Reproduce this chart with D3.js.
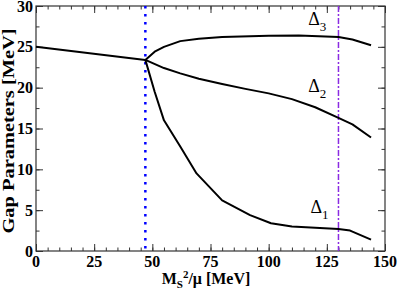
<!DOCTYPE html>
<html>
<head>
<meta charset="utf-8">
<script src="https://cdn.jsdelivr.net/npm/d3@7"></script>
<style>
  body { margin: 0; background: #fff; }
  text { font-family: "Liberation Serif", "DejaVu Serif", serif; }
</style>
</head>
<body>
<div id="chart"></div>
<script>
// common line below the splitting point
const xCommon = [0, 47];
const yCommon = [25.0, 23.4];

// Delta_3 branch
const xD3 = [47, 51, 55, 62, 70, 80, 100, 113, 130, 136, 144];
const yD3 = [23.4, 24.4, 25.0, 25.7, 26.0, 26.2, 26.35, 26.4, 26.2, 25.9, 25.2];

// Delta_2 branch
const xD2 = [47, 55, 62, 70, 80, 90, 100, 110, 120, 130, 136, 144];
const yD2 = [23.4, 22.4, 21.75, 21.1, 20.45, 19.85, 19.3, 18.6, 17.6, 16.3, 15.5, 13.9];

// Delta_1 branch
const xD1 = [47, 51, 55, 62, 69, 80, 92, 101, 110, 130, 135, 144];
const yD1 = [23.4, 19.5, 16.0, 12.8, 9.5, 6.2, 4.4, 3.4, 3.0, 2.7, 2.5, 1.4];

// vertical markers
const blueLineX = 47;
const purpleLineX = 130;

const xTicks = [0, 25, 50, 75, 100, 125, 150];
const yTicks = [0, 5, 10, 15, 20, 25, 30];

const width = 399, height = 292;
const margin = { top: 6, right: 14, bottom: 41, left: 36 };
const w = width - margin.left - margin.right;
const h = height - margin.top - margin.bottom;

const svg = d3.select('#chart').append('svg')
   .attr('width', width)
   .attr('height', height);

const chart = svg.append('g')
   .attr('transform', `translate(${margin.left},${margin.top})`);

const x = d3.scaleLinear().domain([0, 150]).range([0, w]);
const y = d3.scaleLinear().domain([0, 30]).range([h, 0]);

// ticks on all four sides, pointing inward
const xMinor = d3.range(0, 150.1, 5);
const yMinor = d3.range(0, 30.1, 2.5);

function tickAxis(axis, scale, vals, size) {
   return axis(scale).tickValues(vals).tickSize(size).tickFormat('');
}

chart.append('g').attr('transform', `translate(0,${h})`)
   .call(tickAxis(d3.axisTop, x, xMinor, 3.5));
chart.append('g').attr('transform', `translate(0,${h})`)
   .call(tickAxis(d3.axisTop, x, xTicks, 7));
chart.append('g').call(tickAxis(d3.axisBottom, x, xMinor, 3.5));
chart.append('g').call(tickAxis(d3.axisBottom, x, xTicks, 7));
chart.append('g').call(tickAxis(d3.axisRight, y, yMinor, 3.5));
chart.append('g').call(tickAxis(d3.axisRight, y, yTicks, 7));
chart.append('g').attr('transform', `translate(${w},0)`)
   .call(tickAxis(d3.axisLeft, y, yMinor, 3.5));
chart.append('g').attr('transform', `translate(${w},0)`)
   .call(tickAxis(d3.axisLeft, y, yTicks, 7));

chart.selectAll('.domain').remove();
chart.selectAll('.tick line').attr('stroke', '#333').attr('stroke-width', 1);

// tick labels
chart.selectAll('.xlab')
   .data(xTicks)
   .enter()
   .append('text')
   .attr('x', d => x(d))
   .attr('y', h + 16)
   .attr('text-anchor', 'middle')
   .style('font-size', '16px')
   .style('font-weight', 'bold')
   .text(d => d);

chart.selectAll('.ylab')
   .data(yTicks)
   .enter()
   .append('text')
   .attr('x', -3)
   .attr('y', d => y(d) + 5.5)
   .attr('text-anchor', 'end')
   .style('font-size', '16px')
   .style('font-weight', 'bold')
   .text(d => d);

// frame
chart.append('rect')
   .attr('width', w)
   .attr('height', h)
   .attr('fill', 'none')
   .attr('stroke', '#333')
   .attr('stroke-width', 1.2);

// vertical markers
chart.append('line')
   .attr('x1', x(blueLineX)).attr('x2', x(blueLineX))
   .attr('y1', 0).attr('y2', h)
   .attr('stroke', '#0000ff')
   .attr('stroke-width', 2.5)
   .attr('stroke-dasharray', '2.5,5.5');

chart.append('line')
   .attr('x1', x(purpleLineX)).attr('x2', x(purpleLineX))
   .attr('y1', 0).attr('y2', h)
   .attr('stroke', '#8a2be2')
   .attr('stroke-width', 1.5)
   .attr('stroke-dasharray', '6,2,2,2');

// curves
const line = d3.line()
   .x(d => x(d[0]))
   .y(d => y(d[1]));

[[xCommon, yCommon], [xD3, yD3], [xD2, yD2], [xD1, yD1]].forEach(([xs, ys]) => {
   chart.append('path')
      .datum(xs.map((v, i) => [v, ys[i]]))
      .attr('d', line)
      .attr('fill', 'none')
      .attr('stroke', '#000')
      .attr('stroke-width', 2)
      .attr('stroke-linejoin', 'round');
});

// Delta labels
const deltaLabels = [
   { t: '3', x: 117, y: 27.65 },
   { t: '2', x: 117, y: 19.45 },
   { t: '1', x: 118, y: 4.6 }
];
deltaLabels.forEach(d => {
   const t = chart.append('text')
      .attr('x', x(d.x))
      .attr('y', y(d.y))
      .style('font-size', '18px');
   t.append('tspan').text('Δ');
   t.append('tspan').attr('dy', 6).style('font-size', '13px').text(d.t);
});

// axis titles
const xt = svg.append('text')
   .attr('x', 206)
   .attr('y', 284)
   .attr('text-anchor', 'middle')
   .style('font-size', '16px')
   .style('font-weight', 'bold');
xt.append('tspan').text('M');
xt.append('tspan').attr('dy', 4).style('font-size', '11px').text('S');
xt.append('tspan').attr('dy', -10).style('font-size', '11px').text('2');
xt.append('tspan').attr('dy', 6).text('/μ [MeV]');

svg.append('text')
   .attr('transform', `translate(14,${131}) rotate(-90)`)
   .attr('text-anchor', 'middle')
   .attr('textLength', 205)
   .attr('lengthAdjust', 'spacingAndGlyphs')
   .style('font-size', '17px')
   .style('font-weight', 'bold')
   .text('Gap Parameters [MeV]');
</script>
</body>
</html>
